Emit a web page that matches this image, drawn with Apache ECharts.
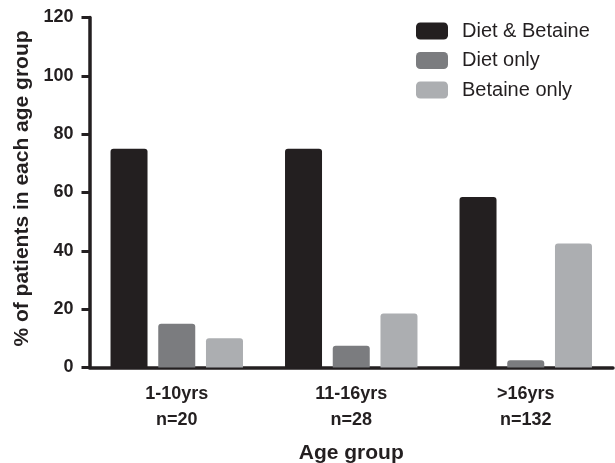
<!DOCTYPE html>
<html>
<head>
<meta charset="utf-8">
<script src="https://cdn.jsdelivr.net/npm/echarts@6/dist/echarts.min.js"></script>
<style>
  html, body { margin: 0; padding: 0; background: #fff; }
  #chart { width: 615px; height: 463px; }
</style>
</head>
<body>
<div id="chart"></div>
<script>
// Age groups (two-line axis labels) and treatment percentages per group
const ageGroups = ['1-10yrs\nn=20', '11-16yrs\nn=28', '>16yrs\nn=132'];
const dietAndBetaine = [75, 75, 58.5];
const dietOnly = [15, 7.5, 2.5];
const betaineOnly = [10, 18.5, 42.5];
const yTicks = { min: 0, max: 120, step: 20 };

const ink = '#231f20';
const font = "'Liberation Sans', Arial, Helvetica, sans-serif";

const chart = echarts.init(document.getElementById('chart'), null, { renderer: 'canvas' });

function barSeries(name, data, color) {
  return {
    name: name,
    type: 'bar',
    data: data,
    barWidth: 37,
    barGap: '29%',
    itemStyle: { color: color, borderRadius: [3, 3, 0, 0] }
  };
}

chart.setOption({
  animation: false,
  backgroundColor: '#ffffff',
  textStyle: { fontFamily: font, color: ink },
  grid: {
    left: 89.5, right: 2, top: 17.5, bottom: 95.5,
    containLabel: false,
    outerBoundsMode: 'none'
  },
  legend: {
    orient: 'vertical',
    left: 411,
    top: 16,
    itemWidth: 32,
    itemHeight: 17,
    itemGap: 9.5,
    icon: 'roundRect',
    textStyle: { fontFamily: font, fontSize: 20, color: ink, padding: [0, 0, 0, 9] },
    data: ['Diet & Betaine', 'Diet only', 'Betaine only']
  },
  xAxis: {
    type: 'category',
    data: ageGroups,
    name: 'Age group',
    nameLocation: 'middle',
    nameGap: 75,
    nameTextStyle: { fontFamily: font, fontSize: 21, fontWeight: 'bold', color: ink },
    axisLine: { lineStyle: { color: ink, width: 3.5 } },
    axisTick: { alignWithLabel: true, length: 7, lineStyle: { color: ink, width: 3 } },
    axisLabel: {
      margin: 13.5,
      fontFamily: font, fontSize: 18, fontWeight: 'bold', color: ink,
      lineHeight: 26
    },
    splitLine: { show: false }
  },
  yAxis: {
    type: 'value',
    min: yTicks.min,
    max: yTicks.max,
    interval: yTicks.step,
    name: '% of patients in each age group',
    nameLocation: 'middle',
    nameGap: 55,
    nameTextStyle: {
      fontFamily: font, fontSize: 21, fontWeight: 'bold', color: ink,
      padding: [0, 0, 0, 8]
    },
    axisLine: { show: true, lineStyle: { color: ink, width: 3.5 } },
    axisTick: { show: true, length: 8, lineStyle: { color: ink, width: 3 } },
    axisLabel: { margin: 16, fontFamily: font, fontSize: 18, fontWeight: 'bold', color: ink },
    splitLine: { show: false }
  },
  series: [
    barSeries('Diet & Betaine', dietAndBetaine, '#231f20'),
    barSeries('Diet only', dietOnly, '#7b7c7f'),
    barSeries('Betaine only', betaineOnly, '#acaeb1')
  ]
});
</script>
</body>
</html>
